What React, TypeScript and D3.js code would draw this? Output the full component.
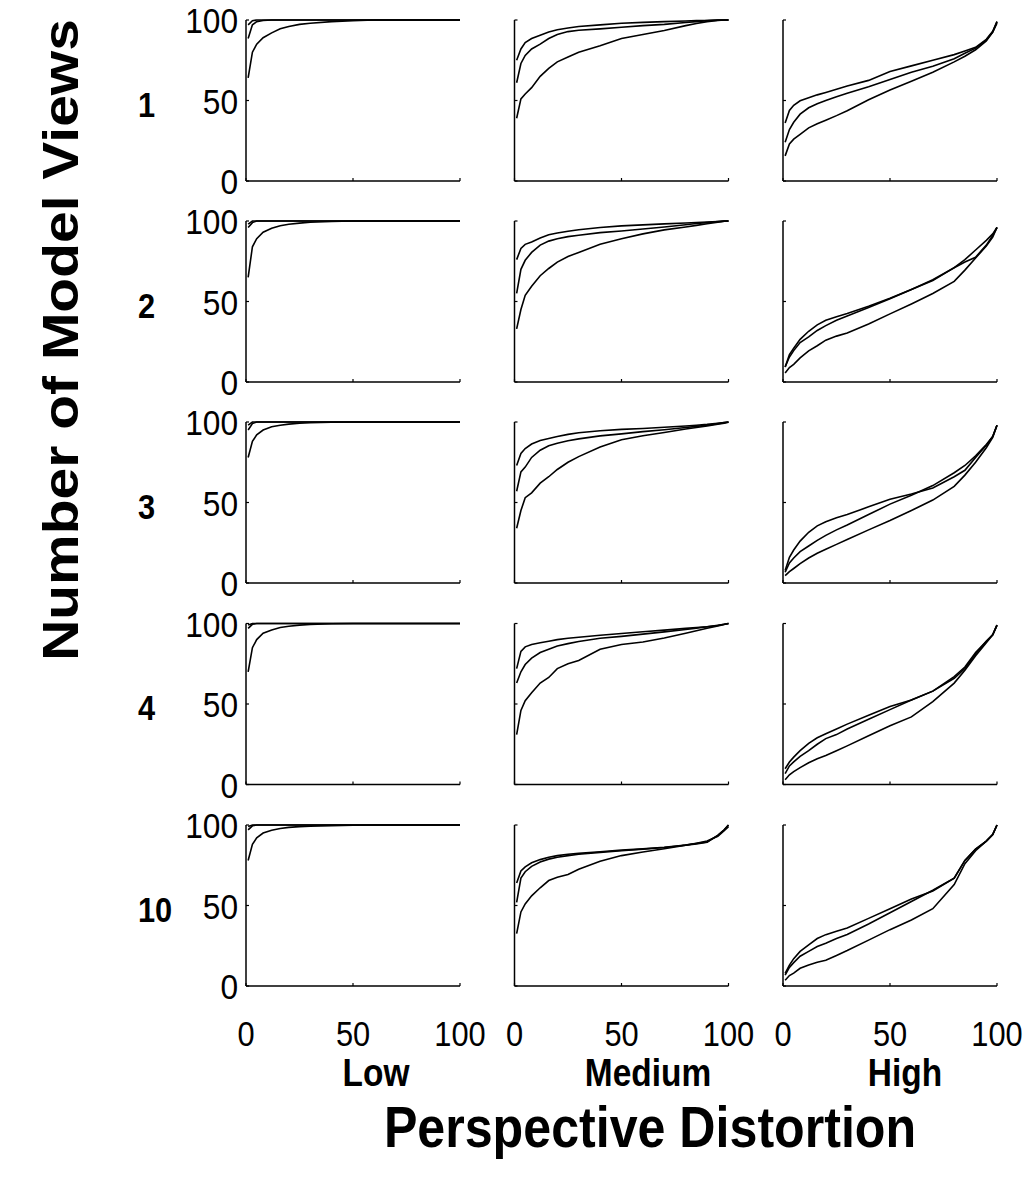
import React from "react";
import * as d3 from "d3";

const xGrid = [1, 3, 5, 8, 12, 16, 20, 25, 30, 40, 50, 60, 70, 80, 85, 90, 95, 98, 100];
const rowLabels = ["1", "2", "3", "4", "10"];
const colLabels = ["Low", "Medium", "High"];
const tickValues = [0, 50, 100];
const xTitle = "Perspective Distortion";
const yTitle = "Number of Model Views";

// Low distortion
const low1a = [97, 99.6, 100, 100, 100, 100, 100, 100, 100, 100, 100, 100, 100, 100, 100, 100, 100, 100, 100];
const low1b = [88.5, 97, 99, 99.7, 100, 100, 100, 100, 100, 100, 100, 100, 100, 100, 100, 100, 100, 100, 100];
const low1c = [64, 80, 85, 89, 92, 94.5, 96, 97.3, 98, 99, 99.6, 100, 100, 100, 100, 100, 100, 100, 100];
const low2a = [98, 100, 100, 100, 100, 100, 100, 100, 100, 100, 100, 100, 100, 100, 100, 100, 100, 100, 100];
const low2b = [96, 99, 100, 100, 100, 100, 100, 100, 100, 100, 100, 100, 100, 100, 100, 100, 100, 100, 100];
const low2c = [65, 84, 89, 93, 95.5, 97, 98, 98.7, 99.2, 99.7, 100, 100, 100, 100, 100, 100, 100, 100, 100];
const low3a = [98, 100, 100, 100, 100, 100, 100, 100, 100, 100, 100, 100, 100, 100, 100, 100, 100, 100, 100];
const low3b = [95, 99, 100, 100, 100, 100, 100, 100, 100, 100, 100, 100, 100, 100, 100, 100, 100, 100, 100];
const low3c = [78, 88, 92, 95, 97, 98, 98.7, 99.2, 99.5, 99.8, 100, 100, 100, 100, 100, 100, 100, 100, 100];
const low4a = [99, 100, 100, 100, 100, 100, 100, 100, 100, 100, 100, 100, 100, 100, 100, 100, 100, 100, 100];
const low4b = [97, 99.5, 100, 100, 100, 100, 100, 100, 100, 100, 100, 100, 100, 100, 100, 100, 100, 100, 100];
const low4c = [70, 85, 90, 94, 96, 97.5, 98.3, 99, 99.4, 99.8, 100, 100, 100, 100, 100, 100, 100, 100, 100];
const low5a = [99, 100, 100, 100, 100, 100, 100, 100, 100, 100, 100, 100, 100, 100, 100, 100, 100, 100, 100];
const low5b = [97, 99.5, 100, 100, 100, 100, 100, 100, 100, 100, 100, 100, 100, 100, 100, 100, 100, 100, 100];
const low5c = [78, 88, 92, 95, 96.8, 97.8, 98.5, 99, 99.3, 99.6, 99.8, 100, 100, 100, 100, 100, 100, 100, 100];

// Medium distortion
const med1a = [75, 82, 86, 88.5, 90.6, 92.5, 94, 95, 96, 97, 98, 98.5, 99, 99.4, 99.6, 99.7, 99.9, 100, 100];
const med1b = [61, 73, 78, 82, 85, 88.5, 91, 92.8, 93.6, 94.5, 95.5, 96.5, 97.3, 98.4, 99, 99.6, 99.9, 100, 100];
const med1c = [39, 51, 54, 58, 65, 70, 74, 77, 80, 84, 88.5, 91, 93.5, 96.5, 97.8, 99, 99.7, 100, 100];
const med2a = [76, 83, 85.5, 87, 89.5, 91.5, 92.5, 93.6, 94.6, 96, 97, 97.6, 98.2, 98.8, 99.1, 99.4, 99.7, 99.9, 100];
const med2b = [55, 70, 75.6, 80.5, 85, 87.5, 89, 90.3, 91.2, 92.8, 93.8, 95, 96.3, 97.7, 98.4, 99, 99.6, 99.9, 100];
const med2c = [33, 45, 53.8, 59.5, 66, 70.5, 74.5, 78, 80.5, 85.5, 89, 92, 94.5, 96.3, 97.3, 98.3, 99.3, 99.8, 100];
const med3a = [73, 80.5, 83.5, 86.3, 88.5, 89.8, 91, 92.3, 93.3, 94.6, 95.4, 96, 96.7, 97.5, 98, 98.5, 99.2, 99.7, 100];
const med3b = [57, 69, 72, 78, 82.5, 85.2, 86.8, 88.3, 89.5, 91.4, 92.6, 94, 95.2, 96.6, 97.3, 98, 99, 99.6, 100];
const med3c = [34, 45, 53, 56, 62, 66, 70.5, 75, 78.5, 84.5, 89, 91.5, 93.5, 95.7, 96.6, 97.5, 98.6, 99.3, 99.8];
const med4a = [72, 82.7, 85.5, 87, 88, 89, 90, 90.8, 91.5, 92.7, 93.8, 94.9, 95.9, 97, 97.5, 98, 98.8, 99.5, 100];
const med4b = [63, 70, 74.5, 78.5, 82, 84, 86, 87.5, 88.8, 90.8, 92, 93.4, 94.8, 96.3, 97.1, 98, 98.9, 99.5, 100];
const med4c = [31, 46, 52, 57, 63, 66.5, 72, 75, 77, 84, 87, 88.5, 91, 94, 95.5, 97, 98.5, 99.4, 100];
const med5a = [64, 71.5, 74, 76.5, 78.5, 80, 81, 81.8, 82.4, 83.4, 84.4, 85.2, 86.2, 87.6, 88.5, 89.5, 93.5, 97, 100];
const med5b = [52, 67, 71, 74.3, 77, 78.8, 80, 81, 81.8, 83, 84, 85, 86, 87.4, 88.3, 89.3, 93.5, 97, 100];
const med5c = [32.5, 46, 51, 56, 61, 65.5, 67.5, 69.2, 72.5, 77.5, 81, 83.2, 85.2, 87.5, 88.7, 90, 93, 96.5, 99];

// High distortion
const high1a = [36, 43.8, 47, 49.8, 51.7, 53.5, 55, 57, 59, 62.5, 68, 71.5, 75, 78.5, 80.8, 83, 88, 93, 99];
const high1b = [24, 32, 36.5, 41.5, 45.5, 48, 50, 52.3, 54.5, 58.5, 63, 67.5, 71.3, 76, 79.3, 82.5, 87.5, 92.5, 98];
const high1c = [15.6, 23, 26, 29, 33, 35.5, 37.8, 40.6, 43.6, 50.5, 56.5, 62, 67.5, 74, 77.5, 81.5, 87, 92.5, 99];
const high2a = [9.3, 17, 21, 26.5, 31.5, 35.5, 38.3, 40.5, 42.5, 47, 52, 57.5, 63, 71, 76, 82, 88, 92, 96];
const high2b = [9.3, 15.5, 19.5, 24.5, 28, 32, 35, 38.3, 41, 46.3, 51.7, 57.5, 63.5, 71, 74.5, 77.5, 85, 91, 96];
const high2c = [5.6, 9, 11, 15, 19.3, 22.5, 26, 28.5, 30.5, 36, 42.3, 48.5, 55, 62.5, 69.5, 77, 84.5, 90, 96];
const high3a = [7.7, 16, 20.5, 26, 31.5, 35.5, 38, 40.5, 42.5, 47.3, 52, 55.3, 59, 66, 70, 78, 85.5, 91, 98];
const high3b = [6.7, 12.5, 15.5, 19.5, 23, 26.5, 29.6, 33, 36, 42.5, 49, 54.5, 60.5, 68.5, 73, 79, 86, 91, 98];
const high3c = [4.6, 7, 9, 12, 15.5, 18.5, 21, 24, 27, 33, 38.8, 45, 51.5, 60, 67, 75, 84, 90.5, 98];
const high4a = [9.8, 14, 17, 21, 25.5, 29, 31.5, 34.5, 37.5, 43, 48.5, 52.5, 58, 66, 72, 81, 89, 93, 99];
const high4b = [6.7, 11.5, 14, 17.5, 21, 25, 28.5, 31, 34.5, 40.5, 46.5, 52.5, 58, 67, 73, 82, 89, 93, 99];
const high4c = [3, 6, 8, 10.5, 13.5, 16, 18, 21, 24, 30.3, 36.5, 42, 51.5, 63, 71, 80, 88, 93, 99];
const high5a = [7.8, 13, 17, 21.5, 25.6, 29.5, 31.9, 34, 36, 42, 48, 54, 59, 67, 78, 85, 90, 94, 100];
const high5b = [6.7, 11.5, 14.5, 18.5, 21.5, 24.5, 26.6, 29.5, 32, 38.5, 45.5, 52.5, 59.5, 67, 78, 85, 90, 94, 100];
const high5c = [3.6, 6.5, 8, 11, 13, 14.8, 16, 19, 22, 28.5, 35, 41, 48, 63, 76, 84, 90, 94, 100];

const panelData = [
  [[low1a, low1b, low1c], [med1a, med1b, med1c], [high1a, high1b, high1c]],
  [[low2a, low2b, low2c], [med2a, med2b, med2c], [high2a, high2b, high2c]],
  [[low3a, low3b, low3c], [med3a, med3b, med3c], [high3a, high3b, high3c]],
  [[low4a, low4b, low4c], [med4a, med4b, med4c], [high4a, high4b, high4c]],
  [[low5a, low5b, low5c], [med5a, med5b, med5c], [high5a, high5b, high5c]],
];

// layout
const W = 1034;
const H = 1179;
const colLeft = [246, 514.5, 783];
const panelW = 214;
const rowTop = [20, 221, 422, 623.5, 825];
const panelH = 161;
const SX = 0.88;
const FONT = "'Liberation Sans', Arial, Helvetica, sans-serif";
const colLabelX = [376, 648, 905];

const xScale = d3.scaleLinear().domain([0, 100]).range([0, panelW]);
const yScale = d3.scaleLinear().domain([0, 100]).range([panelH, 0]);
const line = d3
  .line<number>()
  .x((_, i) => xScale(xGrid[i]))
  .y((d) => yScale(d));

function Txt({ x, y, children, size, bold, anchor = "middle" }: any) {
  return (
    <text
      transform={`translate(${x},${y}) scale(${SX},1)`}
      fontSize={size}
      fontWeight={bold ? "bold" : "normal"}
      textAnchor={anchor}
      fontFamily={FONT}
      fill="#000"
    >
      {children}
    </text>
  );
}

function Panel({ r, c }: { r: number; c: number }) {
  const tx = colLeft[c];
  const ty = rowTop[r];
  const curves = panelData[r][c];
  const tickLen = 3;
  return (
    <g transform={`translate(${tx},${ty})`}>
      {curves.map((vals, i) => (
        <path key={i} d={line(vals) || ""} fill="none" stroke="#000" strokeWidth={1.6} />
      ))}
      <line x1={0} y1={0} x2={0} y2={panelH} stroke="#000" strokeWidth={1.5} />
      <line x1={0} y1={panelH} x2={panelW} y2={panelH} stroke="#000" strokeWidth={1.5} />
      {tickValues.map((t) => (
        <g key={"t" + t}>
          <line x1={xScale(t)} x2={xScale(t)} y1={panelH} y2={panelH - tickLen} stroke="#000" strokeWidth={1.2} />
          <line x1={0} x2={tickLen} y1={yScale(t)} y2={yScale(t)} stroke="#000" strokeWidth={1.2} />
        </g>
      ))}
      {c === 0 &&
        tickValues.map((t) => (
          <Txt key={"yl" + t} x={-8} y={yScale(t) + 13} size={36} anchor="end">
            {t}
          </Txt>
        ))}
      {r === rowTop.length - 1 &&
        tickValues.map((t) => (
          <Txt key={"xl" + t} x={xScale(t)} y={panelH + 60} size={35}>
            {t}
          </Txt>
        ))}
    </g>
  );
}

export default function App() {
  return (
    <svg
      width={W}
      height={H}
      style={{ position: "absolute", left: 0, top: 0, background: "#fff" }}
    >
      <rect width={W} height={H} fill="#fff" />
      {rowTop.map((_, r) =>
        colLeft.map((_, c) => <Panel key={r + "-" + c} r={r} c={c} />)
      )}
      {rowLabels.map((lab, r) => (
        <Txt key={lab} x={138} y={rowTop[r] + yScale(50) + 16} size={35} bold anchor="start">
          {lab}
        </Txt>
      ))}
      {colLabels.map((lab, c) => (
        <Txt key={lab} x={colLabelX[c]} y={1086} size={38} bold>
          {lab}
        </Txt>
      ))}
      <Txt x={650} y={1147} size={57} bold>
        {xTitle}
      </Txt>
      <text
        transform={`translate(78,340) scale(${SX},1) rotate(-90)`}
        fontSize={57}
        fontWeight="bold"
        textAnchor="middle"
        fontFamily={FONT}
        fill="#000"
      >
        {yTitle}
      </text>
    </svg>
  );
}
